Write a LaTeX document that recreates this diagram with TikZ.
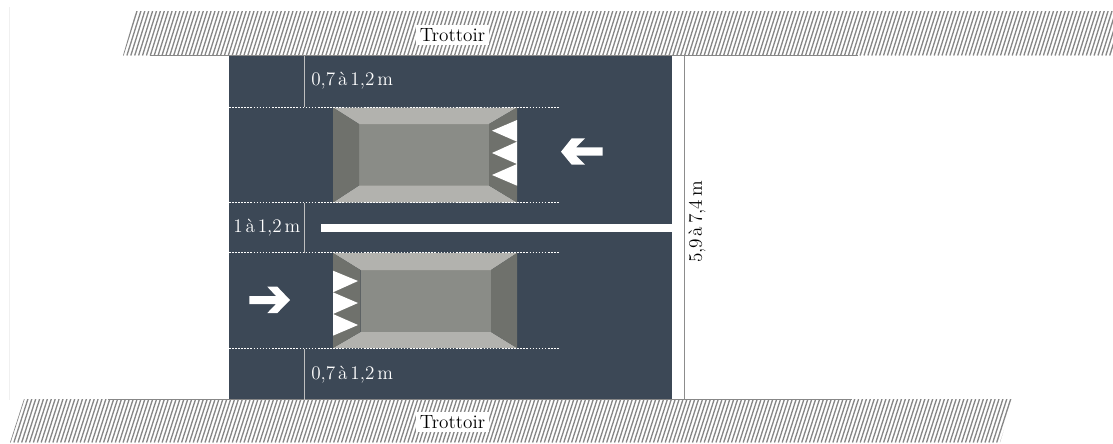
\documentclass[tikz,border=0pt]{standalone}
\usepackage{xcolor}
\definecolor{road}{RGB}{60, 72, 86}
\definecolor{bumptop}{RGB}{178, 178, 174}
\definecolor{bumpside}{RGB}{111, 113, 108}
\definecolor{bumpmid}{RGB}{138, 140, 135}
\definecolor{hatchgrey}{RGB}{135, 135, 135}
\newcommand{\labelfont}{\fontsize{14.4}{14}\selectfont\setlength{\spaceskip}{.15em}}
\tikzset{
  hatchline/.style={hatchgrey,line width=1pt},
  kerbline/.style={draw=hatchgrey,line width=.9pt},
  dimline/.style={draw=black!25,line width=.55pt},
  roadlabel/.style={white,anchor=west,inner sep=0pt,font=\labelfont},
  kerblabel/.style={fill=white,inner xsep=3.2pt,inner ysep=2.5pt,font=\fontsize{14.4}{14}\selectfont},
  limit/.style={white,line width=.8pt,dash pattern=on 1.2pt off 1.1pt},
  tooth/.style={fill=white},
  trafficarrow/.style={fill=white}
}
\begin{document}
\begin{tikzpicture}[x=.75pt,y=-.75pt]
\useasboundingbox (0,0) rectangle (1113,443);
\draw[black!6,line width=.9pt] (9.5,7) -- (9.5,400);
\begin{scope}
\clip (136,11) -- (1113,11) -- (1113,55.5) -- (123,55.5) -- cycle;
\foreach \i in {0,...,260}
  \draw[hatchline] (123+3.9*\i,55.5) -- ++(14,-44.5);
\end{scope}
\begin{scope}
\clip (24,399) -- (1013,399) -- (1000,442.5) -- (10,442.5) -- cycle;
\foreach \i in {0,...,260}
  \draw[hatchline] (10+3.9*\i,442.5) -- ++(14,-43.5);
\end{scope}
\fill[road] (229,56) rectangle (672,399.5);
\coordinate (kerb1w) at (150,55.5);
\coordinate (kerb1e) at (858,55.5);
\coordinate (kerb2w) at (108,399.5);
\coordinate (kerb2e) at (852,399.5);
\draw[kerbline] (kerb1w) -- (kerb1e);
\draw[kerbline] (kerb2w) -- (kerb2e);
\fill[white] (321,224) rectangle (672,232);
% bump, upper lane
\fill[bumpmid] (359,124) rectangle (489,185.5);
\fill[bumptop] (333,107.5) -- (517,107.5) -- (489,124) -- (359,124) -- cycle;
\fill[bumptop] (333,202.5) -- (517,202.5) -- (489,185.5) -- (359,185.5) -- cycle;
\fill[bumpside] (333,107.5) -- (359,124) -- (359,185.5) -- (333,202.5) -- cycle;
\fill[bumpside] (517,107.5) -- (489,124) -- (489,185.5) -- (517,202.5) -- cycle;
\fill[tooth] (517,120) -- (492,130.7) -- (517,141.7) -- cycle;
\fill[tooth] (517,141.7) -- (492,153) -- (517,164) -- cycle;
\fill[tooth] (517,164) -- (492,175) -- (517,185.7) -- cycle;
% bump, lower lane
\fill[bumpmid] (360.5,270) rectangle (491,332);
\fill[bumptop] (333,253) -- (517,253) -- (491,270) -- (360.5,270) -- cycle;
\fill[bumptop] (333,348) -- (517,348) -- (491,332) -- (360.5,332) -- cycle;
\fill[bumpside] (333,253) -- (360.5,270) -- (360.5,332) -- (333,348) -- cycle;
\fill[bumpside] (517,253) -- (491,270) -- (491,332) -- (517,348) -- cycle;
\fill[tooth] (333,270.7) -- (358,281) -- (333,292.3) -- cycle;
\fill[tooth] (333,292.3) -- (358,303) -- (333,314) -- cycle;
\fill[tooth] (333,314) -- (358,325) -- (333,335.7) -- cycle;
\fill[trafficarrow] (561,151.7) -- (571.7,138.3) -- (585,138.3) -- (576,147.3) -- (602.7,147.3) -- (602.7,155.7) -- (576,155.7) -- (585,164.7) -- (571.7,164.7) -- cycle;
\fill[trafficarrow] (290,300) -- (277.3,286.7) -- (267.3,286.7) -- (276,296) -- (249.3,296) -- (249.3,304) -- (276,304) -- (267.3,313) -- (277.3,313) -- cycle;
\draw[limit] (229,107.3) -- (560,107.3);
\draw[limit] (229,202.7) -- (560,202.7);
\draw[limit] (229,252.7) -- (560,252.7);
\draw[limit] (229,348.3) -- (560,348.3);
\coordinate (dimAn) at (304,56);
\coordinate (dimAs) at (304,107);
\coordinate (dimBn) at (304,203);
\coordinate (dimBs) at (304,252.5);
\coordinate (dimCn) at (304,348.5);
\coordinate (dimCs) at (304,399.5);
\coordinate (dimDn) at (684,56);
\coordinate (dimDs) at (684,399.5);
\draw[dimline] (dimAn) -- (dimAs);
\draw[dimline] (dimBn) -- (dimBs);
\draw[dimline] (dimCn) -- (dimCs);
\draw[dimline,draw=black!45] (dimDn) -- (dimDs);
\node[roadlabel] (gapA) at (311,81) {0,7 à 1,2 m};
\node[roadlabel] (gapB) at (233,228) {1 à 1,2 m};
\node[roadlabel] (gapC) at (311,375) {0,7 à 1,2 m};
\node[kerblabel] (kerb1) at (452.5,35) {Trottoir};
\node[kerblabel] (kerb2) at (452.5,422) {Trottoir};
\node[inner sep=0pt,rotate=90,font=\labelfont] (width) at (697,222) {5,9 à 7,4 m};
\end{tikzpicture}
\end{document}
